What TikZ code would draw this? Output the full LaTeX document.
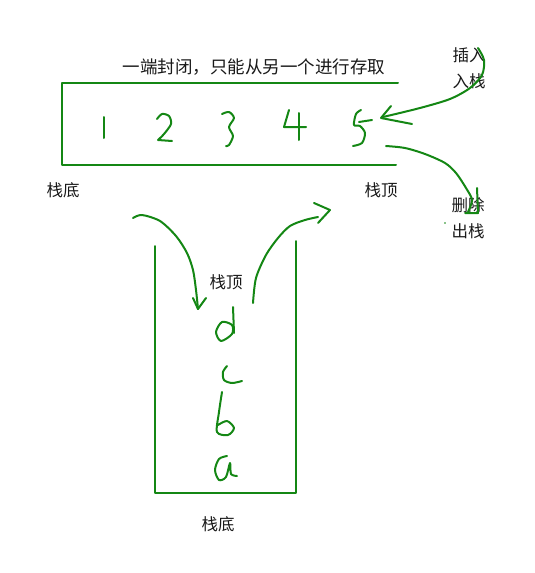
\documentclass[tikz,border=0pt]{standalone}
\usepackage{fontspec}
\newfontfamily\cjk{Noto Sans CJK SC}
\definecolor{pen}{RGB}{20,135,20}
\begin{document}
\begin{tikzpicture}[x=1pt,y=-1pt,
  ink/.style={draw=pen,line width=2pt,line cap=round,line join=round},
  lbl/.style={font=\cjk\fontsize{16.5}{19}\selectfont,inner sep=0pt,text=black!90}]
\useasboundingbox (0,0) rectangle (535,573);
% upper stack (horizontal)
\draw[ink] (398,83) -- (62,83) -- (62,165) -- (396,165);
% digits
\draw[ink] (104,117) -- (104,138);
\draw[ink] plot[smooth] coordinates {(157,119) (162,114) (169,116) (171,124) (164,134) (158,140)} -- (172,141);
\draw[ink] plot[smooth] coordinates {(222,114) (229,112) (234,118) (229,127) (233,136) (229,145) (226,146)};
\draw[ink] (289,110) -- (284,127) -- (306,127);
\draw[ink] (299,113) -- (299,140);
\draw[ink] plot[smooth] coordinates {(361,110) (356,114) (354,125) (360,126) (365,133) (362,143) (353,146)};
\draw[ink] (359,122) -- (372,120);
% labels upper
\node[lbl,font=\cjk\fontsize{17.5}{20}\selectfont] (title) at (254,67) {一端封闭，只能从另一个进行存取};
\node[lbl] (bot1) at (63,190) {栈底};
\node[lbl] (top1) at (381,190) {栈顶};
\node[lbl] (ins) at (469,55) {插入};
\node[lbl] (push) at (469,81) {入栈};
\node[lbl] (del) at (468,205) {删除};
\node[lbl] (pop) at (468,231) {出栈};
\fill[pen] (445,223) circle (0.8);
% insert arrow
\coordinate (insS) at (478,48);
\coordinate (insT) at (383,117);
\draw[ink] plot[smooth] coordinates {(insS) (484,60) (482,75) (470,88) (450,99) (420,108) (383,117)};
\draw[ink] (391,106) -- (381,118) -- (412,124);
% delete arrow
\coordinate (delS) at (386,146);
\draw[ink] plot[smooth] coordinates {(delS) (405,148) (425,154) (445,163) (456,173) (466,188) (472,200) (468,212)};
\draw[ink] (477,188) -- (478,213) -- (465,213);
% lower stack (vertical)
\draw[ink] (155,246) -- (155,493) -- (296,493) -- (296,241);
\node[lbl] (top2) at (226,282) {栈顶};
\node[lbl] (bot2) at (218,524) {栈底};
% letters
\draw[ink] (233,307) -- (234,333);
\draw[ink] plot[smooth cycle] coordinates {(232,325) (222,322) (216,332) (221,341) (232,334)};
\draw[ink] plot[smooth] coordinates {(227,366) (223,372) (224,380) (232,383) (242,381)};
\draw[ink] plot[smooth] coordinates {(222,392) (219,412) (217,432) (228,435) (234,428) (227,421) (218,425)};
\draw[ink] plot[smooth] coordinates {(227,456) (219,459) (215,470) (219,480) (226,477) (230,463) (231,474) (237,476)};
% push arrow (left)
\coordinate (pushS) at (133,218);
\coordinate (pushT) at (198,309);
\draw[ink] plot[smooth] coordinates {(pushS) (142,215) (160,221) (176,236) (187,253) (193,270) (196,290) (pushT)};
\draw[ink] (193,298) -- (198,309) -- (206,298);
% pop arrow (right)
\coordinate (popS) at (253,303);
\coordinate (popT) at (330,210);
\draw[ink] plot[smooth] coordinates {(popS) (256,278) (266,255) (278,238) (290,226) (305,220) (318,217)};
\draw[ink] (314,203) -- (330,210) -- (318,223);
\end{tikzpicture}
\end{document}
